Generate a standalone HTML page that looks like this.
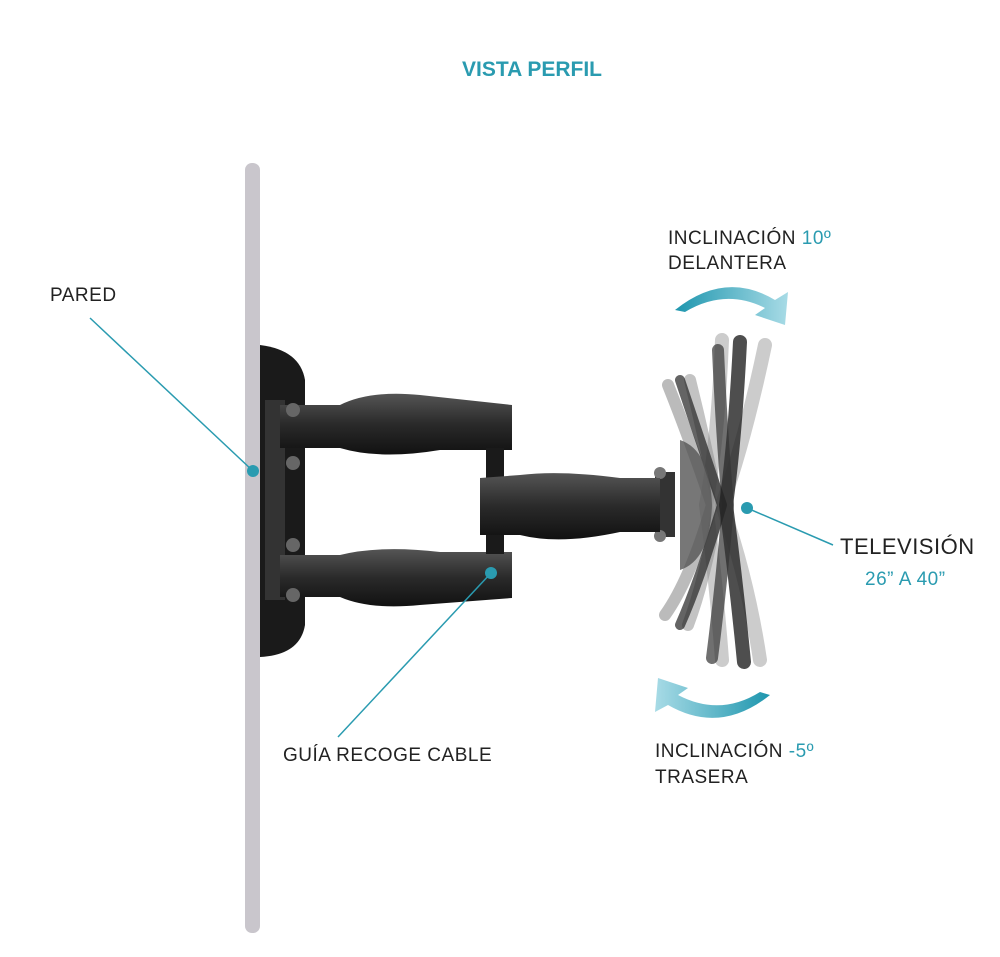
<!DOCTYPE html>
<html><head><meta charset="utf-8">
<style>
html,body{margin:0;padding:0;background:#fff;}
body{width:1000px;height:952px;overflow:hidden;font-family:"Liberation Sans",sans-serif;}
</style></head>
<body>
<svg width="1000" height="952" viewBox="0 0 1000 952" xmlns="http://www.w3.org/2000/svg">
<defs>
<linearGradient id="ga" x1="0" x2="1" y1="0" y2="0">
<stop offset="0" stop-color="#1e96ae"/><stop offset="1" stop-color="#a8dbe6"/></linearGradient>
<linearGradient id="gb" x1="1" x2="0" y1="0" y2="0">
<stop offset="0" stop-color="#1e96ae"/><stop offset="1" stop-color="#a8dbe6"/></linearGradient>
<linearGradient id="arm" x1="0" x2="0" y1="0" y2="1">
<stop offset="0" stop-color="#555"/><stop offset="0.5" stop-color="#2a2a2a"/><stop offset="1" stop-color="#111"/></linearGradient>
</defs>
<text x="532" y="76" text-anchor="middle" font-size="21" font-weight="bold" fill="#2a9bb0">VISTA PERFIL</text>
<!-- wall -->
<rect x="245" y="163" width="15" height="770" rx="7" fill="#c9c6cc"/>
<!-- TV plates -->
<g fill="none" stroke-linecap="round" stroke-linejoin="round">
<path d="M722 340 Q718 440 706 505 Q716 580 722 660" stroke="#999" stroke-width="14" opacity="0.5"/>
<path d="M765 345 Q745 440 722 505 Q748 580 760 660" stroke="#999" stroke-width="14" opacity="0.5"/>
<path d="M668 385 Q690 440 712 505 Q690 580 665 615" stroke="#777" stroke-width="12" opacity="0.5"/>
<path d="M690 380 Q705 440 718 505 Q705 580 688 625" stroke="#888" stroke-width="12" opacity="0.5"/>
<path d="M740 342 Q735 440 726 505 Q736 580 744 662" stroke="#222" stroke-width="14" opacity="0.8"/>
<path d="M718 350 Q722 440 728 505 Q722 580 712 658" stroke="#333" stroke-width="12" opacity="0.7"/>
<path d="M680 380 Q700 440 722 505 Q700 580 680 625" stroke="#222" stroke-width="10" opacity="0.7"/>
</g>
<path d="M680 440 Q710 450 712 505 Q710 560 680 570 Z" fill="#555" opacity="0.8"/>
<rect x="655" y="472" width="20" height="65" fill="#333"/>
<circle cx="660" cy="473" r="6" fill="#777"/><circle cx="660" cy="536" r="6" fill="#777"/>
<!-- wall plate -->
<path d="M260 345 Q300 350 305 380 L305 625 Q300 655 260 657 Z" fill="#1a1a1a"/>
<rect x="265" y="400" width="20" height="200" fill="#333"/>
<!-- arms -->
<path d="M280 405 L340 405 Q370 390 420 395 L512 405 L512 450 L440 450 Q380 460 340 448 L280 448 Z" fill="url(#arm)"/>
<path d="M280 555 L340 555 Q380 545 440 552 L512 552 L512 598 L420 605 Q370 610 340 597 L280 597 Z" fill="url(#arm)"/>
<rect x="486" y="448" width="18" height="106" fill="#1a1a1a"/>
<path d="M480 478 L520 475 Q560 470 620 478 L660 478 L660 532 L620 532 Q560 545 520 535 L480 535 Z" fill="url(#arm)"/>
<circle cx="293" cy="410" r="7" fill="#666"/><circle cx="293" cy="463" r="7" fill="#666"/>
<circle cx="293" cy="545" r="7" fill="#666"/><circle cx="293" cy="595" r="7" fill="#666"/>
<!-- callouts -->
<g stroke="#2a9bb0" stroke-width="1.5" fill="none">
<line x1="90" y1="318" x2="253" y2="471"/>
<line x1="491" y1="573" x2="338" y2="737"/>
<line x1="747" y1="508" x2="833" y2="545"/>
</g>
<g fill="#2a9bb0">
<circle cx="253" cy="471" r="6"/><circle cx="491" cy="573" r="6"/><circle cx="747" cy="508" r="6"/>
</g>
<!-- rotation arrows -->
<path d="M675 310 Q725 270 775 300 L788 292 L785 325 L755 315 L765 308 Q725 288 685 312 Z" fill="url(#ga)"/>
<path d="M770 695 Q720 735 668 705 L655 712 L658 678 L688 688 L678 695 Q720 717 760 692 Z" fill="url(#gb)"/>
<!-- labels -->
<g font-size="19" fill="#222" letter-spacing="0.5">
<text x="50" y="301">PARED</text>
<text x="283" y="761">GUÍA RECOGE CABLE</text>
<text x="840" y="554" font-size="22">TELEVISIÓN</text>
<text x="865" y="585" fill="#2a9bb0">26” A 40”</text>
<text x="668" y="244">INCLINACIÓN <tspan fill="#2a9bb0">10º</tspan></text>
<text x="668" y="269">DELANTERA</text>
<text x="655" y="757">INCLINACIÓN <tspan fill="#2a9bb0">-5º</tspan></text>
<text x="655" y="783">TRASERA</text>
</g>
</svg>
</body></html>
